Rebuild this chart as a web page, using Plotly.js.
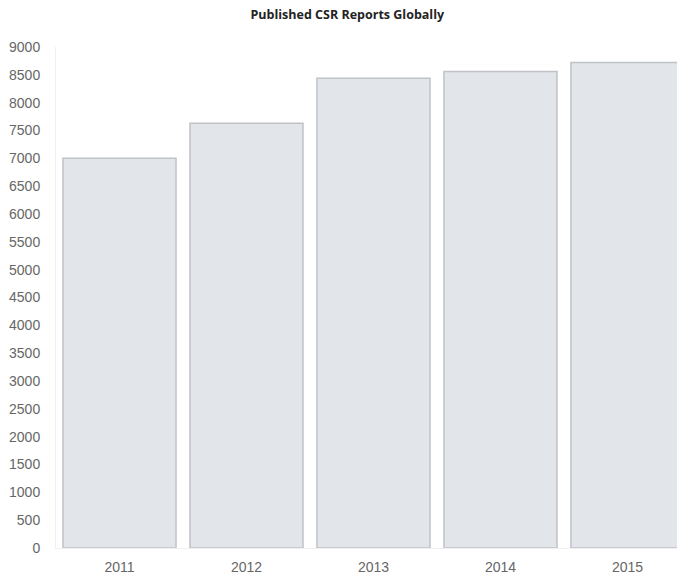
<!DOCTYPE html>
<html>
<head>
<meta charset="utf-8">
<script src="https://cdn.plot.ly/plotly-3.0.1.min.js"></script>
<style>html,body{margin:0;padding:0;background:#fff;overflow:hidden;}</style>
</head>
<body>
<div id="chart" style="width:677px;height:576px;"></div>
<script>
const years = ["2011", "2012", "2013", "2014", "2015"];
const reports = [7000, 7630, 8440, 8560, 8720];
const yTicks = [0, 500, 1000, 1500, 2000, 2500, 3000, 3500, 4000, 4500, 5000, 5500, 6000, 6500, 7000, 7500, 8000, 8500, 9000];

const trace = {
  type: 'bar',
  x: years,
  y: reports,
  marker: {color: '#e2e5ea', line: {color: '#c0c2c8', width: 1.5}},
  hoverinfo: 'x+y'
};

const layout = {
  width: 677, height: 576,
  margin: {l: 56, r: 0, t: 47, b: 28},
  paper_bgcolor: '#ffffff', plot_bgcolor: '#ffffff',
  title: {text: '<b>Published CSR Reports Globally</b>', x: 0.513, xanchor: 'center', y: 0.975, yanchor: 'middle',
          font: {family: 'Open Sans, sans-serif', size: 12.5, color: '#222'}},
  bargap: 0.11,
  showlegend: false,
  xaxis: {type: 'category', range: [-0.5, 4.39], showgrid: false, zeroline: false,
          showline: true, linecolor: '#f0f0f0', linewidth: 1, ticks: '',
          ticklabelstandoff: 6,
          tickfont: {family: 'Liberation Sans, Arial, sans-serif', size: 14, color: '#666'}},
  yaxis: {range: [0, 9000], tickvals: yTicks, ticktext: yTicks.map(String), showgrid: false,
          zeroline: false, showline: true, linecolor: '#f0f0f0', linewidth: 1, ticks: '',
          ticklabelstandoff: 12,
          tickfont: {family: 'Liberation Sans, Arial, sans-serif', size: 14, color: '#666'}}
};

Plotly.newPlot('chart', [trace], layout, {displayModeBar: false, staticPlot: true});
</script>
</body>
</html>
